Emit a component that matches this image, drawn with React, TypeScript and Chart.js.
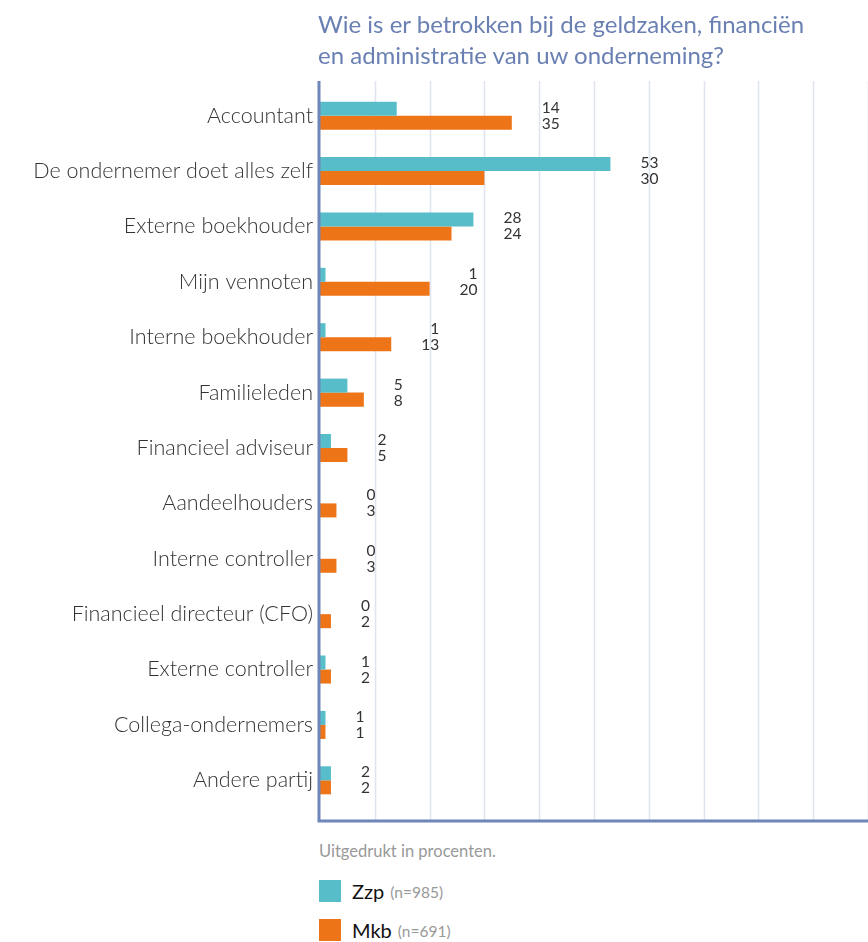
import React, { useEffect, useRef } from "react";
import { Chart, registerables } from "chart.js";

Chart.register(...registerables);

const categories = [
  "Accountant",
  "De ondernemer doet alles zelf",
  "Externe boekhouder",
  "Mijn vennoten",
  "Interne boekhouder",
  "Familieleden",
  "Financieel adviseur",
  "Aandeelhouders",
  "Interne controller",
  "Financieel directeur (CFO)",
  "Externe controller",
  "Collega-ondernemers",
  "Andere partij",
];
const zzpValues = [14, 53, 28, 1, 1, 5, 2, 0, 0, 0, 1, 1, 2];
const mkbValues = [35, 30, 24, 20, 13, 8, 5, 3, 3, 2, 2, 1, 2];
const gridTicks = [0, 10, 20, 30, 40, 50, 60, 70, 80, 90, 100];

const TITLE_LINES = ["Wie is er betrokken bij de geldzaken, financiën", "en administratie van uw onderneming?"];
const NOTE = "Uitgedrukt in procenten.";
const FONT = "Lato, 'Noto Sans', sans-serif";
const TEAL = "#57bec9";
const ORANGE = "#ed7518";
const AXIS = "#6f86b8";
const GRID = "#dfe4f0";

const framePlugin = {
  id: "frame",
  beforeDatasetsDraw(chart: any) {
    const ctx = chart.ctx;
    const xs = chart.scales.x;
    const top = 81;
    const bottom = 821;
    ctx.save();
    ctx.strokeStyle = GRID;
    ctx.lineWidth = 1.5;
    gridTicks.forEach((v) => {
      if (v === 0) return;
      const x = Math.round(xs.getPixelForValue(v)) + 0.5;
      ctx.beginPath();
      ctx.moveTo(x, top);
      ctx.lineTo(x, bottom);
      ctx.stroke();
    });
    ctx.restore();
  },
  afterDatasetsDraw(chart: any) {
    const ctx = chart.ctx;
    const xs = chart.scales.x;
    const x0 = xs.getPixelForValue(0);
    ctx.save();
    ctx.strokeStyle = AXIS;
    ctx.lineWidth = 3;
    ctx.beginPath();
    ctx.moveTo(x0 - 1, 81);
    ctx.lineTo(x0 - 1, 821);
    ctx.lineTo(chart.width, 821);
    ctx.stroke();

    // value labels
    const m0 = chart.getDatasetMeta(0);
    const m1 = chart.getDatasetMeta(1);
    ctx.font = "15.5px " + FONT;
    ctx.fillStyle = "#333";
    ctx.textAlign = "right";
    ctx.textBaseline = "middle";
    categories.forEach((_, i) => {
      const a = String(zzpValues[i]);
      const b = String(mkbValues[i]);
      const mx = Math.max(zzpValues[i], mkbValues[i]);
      const w = Math.max(ctx.measureText(a).width, ctx.measureText(b).width);
      const xr = xs.getPixelForValue(mx) + 30 + w;
      ctx.fillText(a, xr, m0.data[i].y - 1);
      ctx.fillText(b, xr, m1.data[i].y + 1);
    });
    ctx.restore();
  },
};

export default function App() {
  const ref = useRef<HTMLCanvasElement | null>(null);

  useEffect(() => {
    document.body.style.margin = "0";
    const canvas = ref.current!;
    const chart = new Chart(canvas, {
      type: "bar",
      data: {
        labels: categories,
        datasets: [
          { label: "Zzp", data: zzpValues, backgroundColor: TEAL },
          { label: "Mkb", data: mkbValues, backgroundColor: ORANGE },
        ],
      },
      options: {
        indexAxis: "y",
        responsive: false,
        animation: false,
        devicePixelRatio: 1,
        layout: { padding: { top: 88, bottom: 22, left: 0, right: 0 } },
        datasets: { bar: { categoryPercentage: 0.506, barPercentage: 1 } },
        plugins: {
          legend: { display: false },
          tooltip: { enabled: false },
          title: { display: false },
        },
        scales: {
          x: {
            min: 0,
            max: 100,
            grid: { display: false, drawTicks: false },
            border: { display: false },
            ticks: { display: false, stepSize: 10 },
            afterFit: (s: any) => {
              s.height = 0;
            },
          },
          y: {
            grid: { display: false, drawTicks: false },
            border: { display: false },
            ticks: {
              color: "#333",
              padding: 7,
              font: { family: FONT, size: 21.5, weight: "300" as any },
            },
            afterFit: (s: any) => {
              s.width = 320;
            },
          },
        },
      },
      plugins: [framePlugin],
    });
    return () => chart.destroy();
  }, []);

  return (
    <div style={{ position: "relative", width: 868, height: 942, overflow: "hidden", background: "#fff" }}>
      <canvas ref={ref} width={868} height={830} style={{ position: "absolute", left: 0, top: 0 }} />
      <div
        style={{
          position: "absolute",
          left: 318,
          top: 8,
          width: 550,
          fontFamily: FONT,
          fontSize: 24,
          lineHeight: "31px",
          color: "#6a80b3",
          whiteSpace: "nowrap",
        }}
      >
        {TITLE_LINES.map((l) => (
          <div key={l}>{l}</div>
        ))}
      </div>
      <div
        style={{
          position: "absolute",
          left: 319,
          top: 841,
          fontFamily: FONT,
          fontSize: 16.5,
          color: "#999",
        }}
      >
        {NOTE}
      </div>
      {[
        { name: "Zzp", n: "(n=985)", color: TEAL, top: 880 },
        { name: "Mkb", n: "(n=691)", color: ORANGE, top: 919 },
      ].map((it) => (
        <div key={it.name} style={{ position: "absolute", left: 319, top: it.top, height: 22, display: "flex", alignItems: "center", fontFamily: FONT }}>
          <span style={{ display: "inline-block", width: 22, height: 22, background: it.color }} />
          <span style={{ marginLeft: 11, fontSize: 20, color: "#111" }}>{it.name}</span>
          <span style={{ marginLeft: 6, fontSize: 15.5, color: "#999", position: "relative", top: 1 }}>{it.n}</span>
        </div>
      ))}
    </div>
  );
}
